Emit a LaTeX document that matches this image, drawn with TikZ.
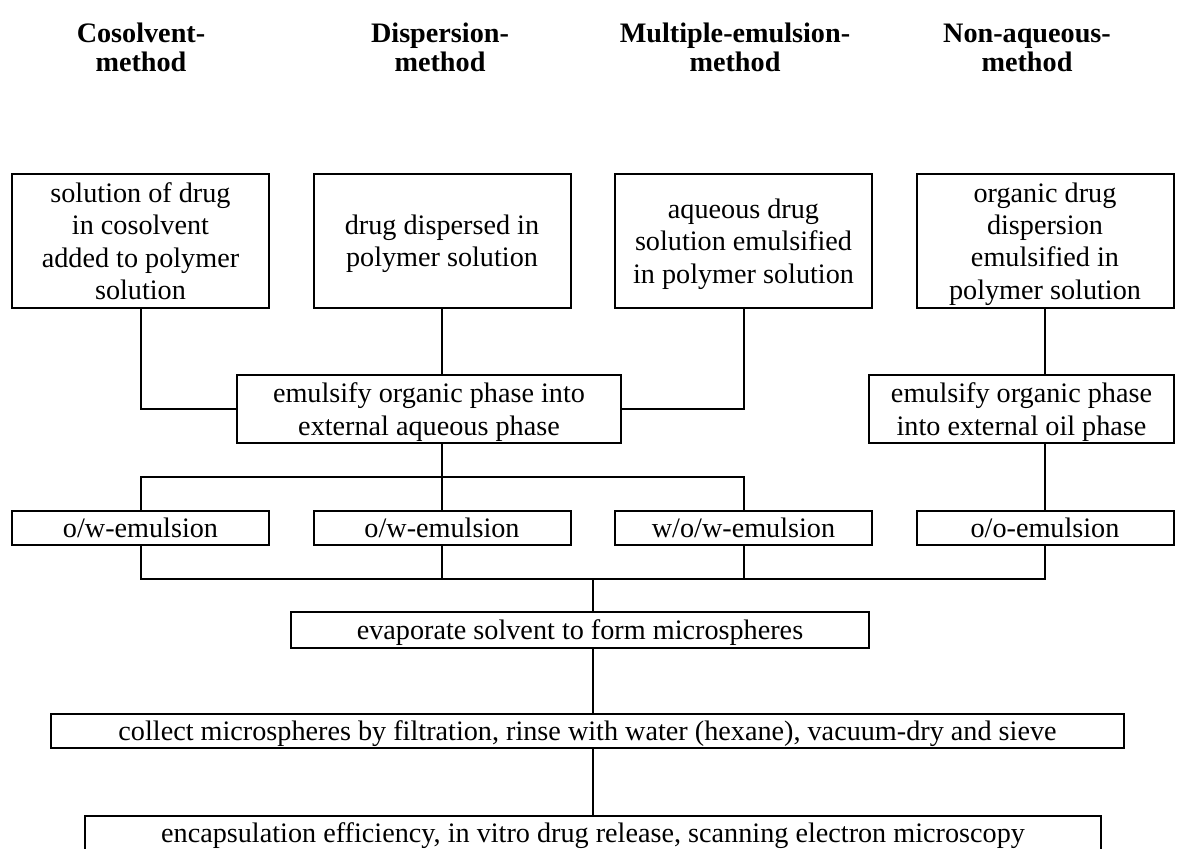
\documentclass[tikz,border=0pt]{standalone}
\usepackage{fontspec}
\setmainfont{Liberation Serif}
\usepackage{tikz}

\begin{document}
\begin{tikzpicture}[x=0.5pt, y=-0.5pt, line width=1pt,
    box/.style={draw, rectangle, inner sep=0pt, align=center, text depth=0pt,
        font=\fontsize{14.1}{16.2}\selectfont},
    topbox/.style={box, minimum width=128.5pt, minimum height=67pt},
    emulbox/.style={box, minimum width=128.5pt, minimum height=17pt},
    method/.style={align=center, font=\fontsize{14.1}{14.5}\selectfont\bfseries}]
    \useasboundingbox (0,0) rectangle (1184,848);

    % method headings
    \node[method] (hcos) at (141, 47) {\strut Cosolvent-\\method};
    \node[method] (hdis) at (440, 47) {\strut Dispersion-\\method};
    \node[method] (hmul) at (735, 47) {\strut Multiple-emulsion-\\method};
    \node[method] (hnon) at (1027, 47) {\strut Non-aqueous-\\method};

    % starting solutions
    \node[topbox] (cosol) at (140.5, 241) {solution of drug\\in cosolvent\\added to polymer\\solution};
    \node[topbox] (disp) at (442, 241) {drug dispersed in\\polymer solution};
    \node[topbox] (multi) at (743.5, 241) {aqueous drug\\solution emulsified\\in polymer solution};
    \node[topbox] (nonaq) at (1045, 241) {organic drug\\dispersion\\emulsified in\\polymer solution};

    % emulsification steps
    \node[box, minimum width=192pt, minimum height=34pt] (emaq) at (429, 409) {emulsify organic phase into\\external aqueous phase};
    \node[box, minimum width=152.5pt, minimum height=34pt] (emoil) at (1021.5, 409) {emulsify organic phase\\into external oil phase};

    % emulsions
    \node[emulbox] (ow1) at (140.5, 528) {o/w-emulsion};
    \node[emulbox] (ow2) at (442, 528) {o/w-emulsion};
    \node[emulbox] (wow) at (743.5, 528) {w/o/w-emulsion};
    \node[emulbox] (oo) at (1045, 528) {o/o-emulsion};

    % common steps
    \node[box, minimum width=289pt, minimum height=18pt] (evap) at (580, 630) {evaporate solvent to form microspheres};
    \node[box, minimum width=536.5pt, minimum height=17pt] (collect) at (587.5, 731) {collect microspheres by filtration, rinse with water (hexane), vacuum-dry and sieve};
    \node[box, minimum width=508pt, minimum height=17pt] (encaps) at (593, 833) {encapsulation efficiency, in vitro drug release, scanning electron microscopy};

    \coordinate (fork) at (442, 477);
    \coordinate (join) at (593, 579);

    \draw (cosol.south) |- (emaq.west);
    \draw (multi.south) |- (emaq.east);
    \draw (disp.south) -- (disp.south |- emaq.north);
    \draw (nonaq.south) -- (nonaq.south |- emoil.north);

    \draw (fork |- emaq.south) -- (fork);
    \draw (ow1.north) |- (fork) -| (wow.north);
    \draw (fork) -- (ow2.north);
    \draw (emoil.south -| oo.north) -- (oo.north);

    \draw (ow1.south) |- (join) -| (oo.south);
    \draw (ow2.south) -- (ow2.south |- join);
    \draw (wow.south) -- (wow.south |- join);
    \draw (join) -- (join |- evap.north);
    \draw (join |- evap.south) -- (join |- collect.north);
    \draw (join |- collect.south) -- (encaps.north);
\end{tikzpicture}
\end{document}
